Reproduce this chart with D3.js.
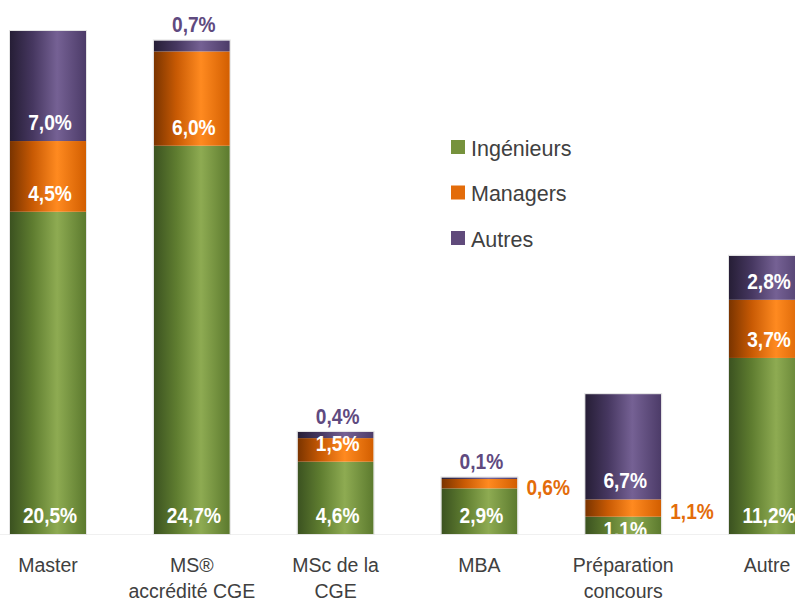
<!DOCTYPE html>
<html>
<head>
<meta charset="utf-8">
<script src="https://cdn.jsdelivr.net/npm/d3@7"></script>
<style>
  body { margin: 0; background: #fff; }
  svg text { font-family: "Liberation Sans", Arial, sans-serif; }
  .val { font-weight: bold; font-size: 22px; }
  .cat { fill: #404040; font-size: 19.5px; }
  .leg { fill: #404040; font-size: 21.5px; }
</style>
</head>
<body>
<div id="chart"></div>
<script>
// categories (multi-line labels split on "|")
const categories = ["Master", "MS®|accrédité CGE", "MSc de la|CGE", "MBA", "Préparation|concours", "Autre"];
const series = ["Ingénieurs", "Managers", "Autres"];
const ingenieurs = [20.5, 24.7, 4.6, 2.9, 1.1, 11.2];
const managers   = [4.5, 6.0, 1.5, 0.6, 1.1, 3.7];
const autres     = [7.0, 0.7, 0.4, 0.1, 6.7, 2.8];

// label placement: "in" = white inside base, "top" = above bar, "right" = beside bar
const labelPos = {
  Ingénieurs: ["in", "in", "in", "in", "in", "in"],
  Managers:   ["in", "in", "in", "right", "right", "in"],
  Autres:     ["in", "top", "top", "top", "in", "in"]
};

const W = 795, H = 603;
const COLORS = {
  Ingénieurs: {legend: "#76923c", stops: ["#3b5220", "#5f7d30", "#8eab52", "#5c7a2e"]},
  Managers:   {legend: "#e36c0a", stops: ["#7a3400", "#c85a04", "#ff8a20", "#d25e00"]},
  Autres:     {legend: "#604a7b", stops: ["#261e36", "#463760", "#756194", "#4c3b68"]}
};
const TEXT_COL = {Managers: "#e36c0a", Autres: "#5f4a7f"};
const SX = 0.87; // condensed look of the value labels

const svg = d3.select("#chart").append("svg")
  .attr("width", W).attr("height", H);

const defs = svg.append("defs");
series.forEach((s, i) => {
  const g = defs.append("linearGradient")
    .attr("id", "grad" + i)
    .attr("x1", "0%").attr("x2", "100%").attr("y1", "0%").attr("y2", "0%");
  const c = COLORS[s].stops;
  [[0, c[0]], [0.3, c[1]], [0.62, c[2]], [1, c[3]]].forEach(st =>
    g.append("stop").attr("offset", st[0]).attr("stop-color", st[1]));
});
defs.append("clipPath").attr("id", "plotclip")
  .append("rect").attr("x", 0).attr("y", 0).attr("width", W).attr("height", 534);

const x = d3.scalePoint().domain(categories).range([48, 767]);
const y = d3.scaleLinear().domain([0, 32]).range([534, 31]);
const BAR_W = 76;

const rows = categories.map((c, i) => ({
  cat: c, Ingénieurs: ingenieurs[i], Managers: managers[i], Autres: autres[i]
}));
const stacked = d3.stack().keys(series)(rows);

// faint baseline
svg.append("line")
  .attr("x1", 0).attr("x2", W)
  .attr("y1", y(0) + 0.5).attr("y2", y(0) + 0.5)
  .attr("stroke", "#f0f0f0");

const layers = svg.append("g").selectAll("g.layer")
  .data(stacked)
  .join("g")
  .attr("class", "layer")
  .attr("fill", (d, i) => "url(#grad" + i + ")");

layers.selectAll("rect")
  .data(d => d)
  .join("rect")
  .attr("x", d => x(d.data.cat) - BAR_W / 2)
  .attr("y", d => y(d[1]))
  .attr("width", BAR_W)
  .attr("height", d => y(d[0]) - y(d[1]));

// thin light outline around each bar
svg.append("g").selectAll("rect")
  .data(rows)
  .join("rect")
  .attr("x", d => x(d.cat) - BAR_W / 2 - 0.5)
  .attr("y", d => y(d.Ingénieurs + d.Managers + d.Autres) - 0.5)
  .attr("width", BAR_W + 1)
  .attr("height", d => y(0) - y(d.Ingénieurs + d.Managers + d.Autres) + 1)
  .attr("fill", "none")
  .attr("stroke", "#e4e4e4")
  .attr("stroke-width", 1);

const fmt = v => v.toFixed(1).replace(".", ",") + "%";

function valText(g, px, py, anchor, col, txt) {
  g.append("text").attr("class", "val")
    .attr("transform", "translate(" + px + "," + py + ") scale(" + SX + ",1)")
    .attr("text-anchor", anchor).attr("fill", col)
    .text(txt);
}

// value labels
const labelsG = svg.append("g").attr("clip-path", "url(#plotclip)");
const labelsOut = svg.append("g");
stacked.forEach(layer => {
  const s = layer.key;
  layer.forEach((d, i) => {
    const pos = labelPos[s][i];
    const cx = x(d.data.cat);
    const v = d[1] - d[0];
    if (pos === "in") {
      let by = y(d[0]) - 11;
      if (s === "Ingénieurs" && v < 2) by = y(d[0]) + 3;
      valText(labelsG, cx + 2, by, "middle", "#fff", fmt(v));
    } else if (pos === "top") {
      valText(labelsOut, cx + 2, y(d[1]) - 8, "middle", TEXT_COL[s], fmt(v));
    } else {
      valText(labelsOut, cx + BAR_W / 2 + 9, (y(d[0]) + y(d[1])) / 2 + 11, "start", TEXT_COL[s], fmt(v));
    }
  });
});

// category labels
svg.append("g").selectAll("text")
  .data(categories)
  .join("text")
  .attr("class", "cat")
  .attr("text-anchor", "middle")
  .attr("transform", d => "translate(" + x(d) + ",572)")
  .each(function(d) {
    d.split("|").forEach((line, k) => {
      d3.select(this).append("tspan")
        .attr("x", 0).attr("y", k * 26)
        .text(line);
    });
  });

// legend
const leg = svg.append("g").attr("transform", "translate(451,140)");
const li = leg.selectAll("g")
  .data(series)
  .join("g")
  .attr("transform", (d, i) => "translate(0," + (i * 45.5) + ")");
li.append("rect")
  .attr("width", 14).attr("height", 14)
  .attr("fill", d => COLORS[d].legend);
li.append("text")
  .attr("class", "leg")
  .attr("x", 20).attr("y", 15.5)
  .text(d => d);
</script>
</body>
</html>
